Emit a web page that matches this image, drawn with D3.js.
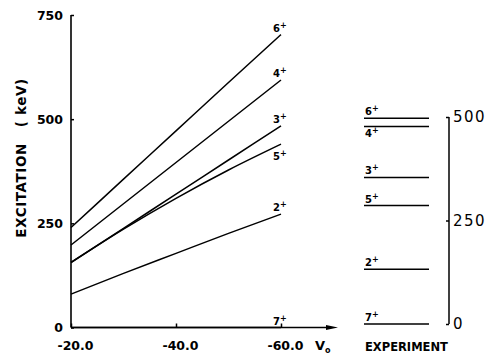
<!DOCTYPE html>
<html>
<head>
<meta charset="utf-8">
<script src="https://cdn.jsdelivr.net/npm/d3@7"></script>
<style>
  body { margin: 0; background: #fff; }
  svg { display: block; }
  text { font-family: "DejaVu Sans", sans-serif; fill: #000; }
</style>
</head>
<body>
<svg id="chart" width="490" height="354"></svg>
<script>
// depth of the potential (x values of the calculation)
const vo = [-20, -30, -40, -50, -60];

// calculated excitation energies (keV) for each state
const states = ["6", "4", "3", "5", "2", "7"];
const calc6 = [240, 356, 472, 588, 703];
const calc4 = [198, 297, 396, 495, 594];
const calc3 = [156, 238, 320, 402, 484];
const calc5 = [156, 236, 310, 378, 440];
const calc2 = [80, 130, 178, 226, 272];
const calc7 = [0, 0, 0, 0, 0];

// measured levels (keV), same order as states
const expt = [497, 477, 354, 286, 132, 0];

const leftTicks = [0, 250, 500, 750];
const rightTicks = [0, 250, 500];
const xTicks = [-20, -40, -60];

const calc = [calc6, calc4, calc3, calc5, calc2, calc7];

const svg = d3.select('#chart');

// Set up scales
const x = d3.scaleLinear().domain([-20, -60]).range([71, 281]);
const y = d3.scaleLinear().domain([0, 750]).range([327.5, 15]);
const yR = d3.scaleLinear().domain([0, 500]).range([324, 117]);

// Left axis
const leftAxis = d3.axisLeft(y)
    .tickValues(leftTicks)
    .tickSize(-3)
    .tickPadding(8)
    .tickFormat(d3.format('d'));

svg.append('g')
    .attr('transform', `translate(${x(-20)},0)`)
    .call(leftAxis)
    .call(g => g.select('.domain').remove())
    .call(g => g.selectAll('line').attr('stroke-width', 1.5))
    .call(g => g.selectAll('text')
        .style('font-size', '12.5px')
        .style('font-weight', 'bold'));

svg.append('line')
    .attr('x1', x(-20)).attr('x2', x(-20))
    .attr('y1', y(750)).attr('y2', y(0))
    .attr('stroke', '#000').attr('stroke-width', 1.6);

// Bottom axis with the arrow
const xAxis = d3.axisBottom(x)
    .tickValues(xTicks)
    .tickSize(-4)
    .tickFormat(d => d3.format('.1f')(d).replace('\u2212', '-'));

svg.append('g')
    .attr('transform', `translate(0,${y(0)})`)
    .call(xAxis)
    .call(g => g.select('.domain').remove())
    .call(g => g.selectAll('line').attr('stroke-width', 1.5))
    .call(g => g.selectAll('text')
        .attr('y', 22)
        .attr('dy', 0)
        .attr('dx', 4)
        .style('font-size', '12.5px')
        .style('font-weight', 'bold'));

svg.append('line')
    .attr('x1', x(-20)).attr('x2', 330)
    .attr('y1', y(0)).attr('y2', y(0))
    .attr('stroke', '#000').attr('stroke-width', 1.6);

svg.append('path')
    .attr('d', `M326,${y(0) - 2.5} L338,${y(0)} L326,${y(0) + 2.5} Z`)
    .attr('fill', '#000');

const vlab = svg.append('text')
    .attr('x', 315).attr('y', 350)
    .style('font-size', '13px')
    .style('font-weight', 'bold');
vlab.append('tspan').text('V');
vlab.append('tspan').attr('dy', 3).style('font-size', '8px').text('o');

// y axis title
svg.append('text')
    .attr('transform', 'translate(26,158) rotate(-90)')
    .attr('text-anchor', 'middle')
    .style('font-size', '13.5px')
    .style('font-weight', 'bold')
    .style('letter-spacing', '0.6px')
    .style('white-space', 'pre')
    .text('EXCITATION   ( keV)');

// Calculated curves
const line = d3.line()
    .x((d, i) => x(vo[i]))
    .y(d => y(d))
    .curve(d3.curveMonotoneX);

svg.selectAll('.calc')
    .data(calc)
    .enter()
    .append('path')
    .attr('class', 'calc')
    .attr('d', line)
    .attr('fill', 'none')
    .attr('stroke', '#000')
    .attr('stroke-width', 1.5);

function spin(sel, label) {
    sel.append('tspan').text(label);
    sel.append('tspan').attr('dy', -4).style('font-size', '8px').style('font-weight', 'bold').text('+');
}

// labels at the end of the curves (5+ sits under its line)
states.forEach((s, i) => {
    const end = calc[i][calc[i].length - 1];
    svg.append('text')
        .attr('x', x(-60) - 8)
        .attr('y', y(end) + (s === '5' ? 16 : -3))
        .style('font-size', '10px')
        .style('font-weight', 'bold')
        .call(spin, s);
});

// Experimental levels
svg.selectAll('.level')
    .data(expt)
    .enter()
    .append('line')
    .attr('class', 'level')
    .attr('x1', 364).attr('x2', 429)
    .attr('y1', d => yR(d)).attr('y2', d => yR(d))
    .attr('stroke', '#000')
    .attr('stroke-width', 1.5);

states.forEach((s, i) => {
    svg.append('text')
        .attr('x', 365)
        .attr('y', yR(expt[i]) + (s === '4' ? 10 : -3))
        .style('font-size', '10px')
        .style('font-weight', 'bold')
        .call(spin, s);
});

// Right axis for the experiment
const rightAxis = d3.axisRight(yR)
    .tickValues(rightTicks)
    .tickSize(-3)
    .tickPadding(4);

svg.append('g')
    .attr('transform', 'translate(449,0)')
    .call(rightAxis)
    .call(g => g.select('.domain').remove())
    .call(g => g.selectAll('line').attr('stroke-width', 1.5))
    .call(g => g.selectAll('text')
        .style('font-size', '15px')
        .style('letter-spacing', '1.5px'));

svg.append('line')
    .attr('x1', 449).attr('x2', 449)
    .attr('y1', yR(500)).attr('y2', yR(0))
    .attr('stroke', '#000').attr('stroke-width', 1.5);

svg.append('text')
    .attr('x', 365).attr('y', 351)
    .style('font-size', '11.5px')
    .style('font-weight', 'bold')
    .text('EXPERIMENT');
</script>
</body>
</html>
